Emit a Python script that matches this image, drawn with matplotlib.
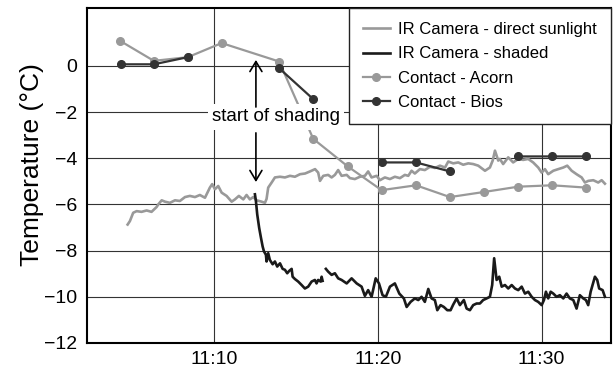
import numpy as np
import matplotlib.pyplot as plt

plt.rcParams['font.family'] = ['Liberation Sans', 'DejaVu Sans']

# time axis: minutes after 11:00
sun_t = [4.73, 4.87, 5.07, 5.28, 5.58, 5.89, 6.19, 6.50, 6.60, 6.81, 7.01, 7.31, 7.62, 7.92,
         8.23, 8.53, 8.84, 9.14, 9.45, 9.75, 9.89, 10.06, 10.26, 10.47, 10.77, 11.08, 11.28,
         11.52, 11.79, 11.99, 12.19, 12.40, 12.60, 12.91, 13.11, 13.21, 13.31, 13.52, 13.72,
         14.03, 14.33, 14.64, 14.94, 15.25, 15.56, 15.86, 16.17, 16.36, 16.47, 16.67, 16.97,
         17.18, 17.38, 17.58, 17.79, 18.10, 18.30, 18.60, 18.91, 19.21, 19.41, 19.62, 19.93,
         20.13, 20.43, 20.74, 21.04, 21.35, 21.65, 21.86, 22.06, 22.26, 22.57, 22.87, 23.18,
         23.49, 23.79, 24.10, 24.30, 24.60, 24.91, 25.21, 25.52, 25.82, 26.13, 26.54, 26.84,
         27.01, 27.15, 27.35, 27.45, 27.65, 27.96, 28.26, 28.57, 28.87, 29.18, 29.48, 29.79,
         30.00, 30.20, 30.40, 30.71, 31.01, 31.32, 31.56, 31.83, 32.13, 32.44, 32.64, 32.84,
         33.15, 33.45, 33.66, 33.86]
sun_v = [-6.87, -6.72, -6.36, -6.29, -6.32, -6.26, -6.32, -6.11, -6.00, -5.82, -5.88, -5.93,
         -5.82, -5.85, -5.68, -5.63, -5.68, -5.59, -5.71, -5.27, -5.12, -5.34, -5.20, -5.49,
         -5.63, -5.88, -5.78, -5.63, -5.78, -5.59, -5.78, -5.68, -5.82, -5.88, -5.93, -5.76,
         -5.27, -5.05, -4.83, -4.80, -4.83, -4.76, -4.80, -4.69, -4.66, -4.57, -4.47, -4.62,
         -4.98, -4.76, -4.72, -4.83, -4.72, -4.51, -4.76, -4.72, -4.86, -4.90, -4.80, -4.76,
         -4.57, -4.83, -4.76, -4.95, -4.83, -4.90, -4.80, -4.86, -4.72, -4.76, -4.54, -4.66,
         -4.47, -4.51, -4.37, -4.42, -4.32, -4.40, -4.14, -4.22, -4.18, -4.28, -4.22, -4.25,
         -4.32, -4.54, -4.40, -4.10, -3.67, -4.10, -4.03, -4.25, -3.96, -4.18, -4.03, -4.07,
         -4.03, -4.18, -4.40, -4.62, -4.47, -4.69, -4.54, -4.47, -4.40, -4.32, -4.54, -4.69,
         -4.83, -5.05, -4.98, -4.95, -5.05, -4.95, -5.10]

shade_t = [12.50, 12.56, 12.64, 12.76, 12.87, 12.97, 13.05, 13.17, 13.21, 13.31, 13.41, 13.58,
           13.72, 13.86, 14.03, 14.19, 14.33, 14.47, 14.59, 14.74, 14.80, 14.94, 15.14, 15.35,
           15.55, 15.75, 15.96, 16.16, 16.26, 16.36, 16.51, 16.57, 16.63, 16.73,
           16.83, 16.97, 17.18, 17.38, 17.58, 17.79, 18.10, 18.40, 18.71, 19.01, 19.21, 19.41,
           19.62, 19.87, 20.07, 20.29, 20.49, 20.74, 21.04, 21.31, 21.59, 21.76, 22.00, 22.26,
           22.47, 22.67, 22.87, 23.08, 23.28, 23.48, 23.63, 23.83, 24.03, 24.24, 24.44, 24.60,
           24.81, 25.01, 25.25, 25.42, 25.62, 25.82, 26.03, 26.23, 26.43, 26.64, 26.84, 26.98,
           27.10, 27.25, 27.41, 27.56, 27.76, 27.96, 28.17, 28.37, 28.57, 28.78, 28.98, 29.18,
           29.39, 29.59, 29.79, 30.00, 30.14, 30.26, 30.40, 30.55, 30.71, 30.91, 31.11, 31.32,
           31.52, 31.72, 31.93, 32.13, 32.33, 32.54, 32.70, 32.84, 32.99, 33.25, 33.39, 33.51,
           33.72, 33.86]
shade_v = [-5.56, -5.85, -6.43, -7.02, -7.45, -7.82, -8.03, -8.18, -8.47, -8.11, -8.40, -8.59,
           -8.47, -8.69, -8.55, -8.79, -8.83, -8.98, -8.88, -8.79, -9.13, -9.23, -9.34, -9.49,
           -9.64, -9.56, -9.34, -9.27, -9.42, -9.27, -9.34, -9.13, -9.31, np.nan,
           -8.79, -8.91, -9.05, -8.98, -9.20, -9.27, -9.42, -9.20, -9.42, -9.56, -9.96, -9.71,
           -10.00, -9.20, -9.42, -9.93, -10.00, -9.56, -9.42, -9.86, -10.07, -10.44, -10.22,
           -10.07, -10.14, -10.00, -10.22, -9.66, -10.07, -10.14, -10.58, -10.36, -10.44,
           -10.58, -10.58, -10.34, -10.07, -10.36, -10.14, -10.51, -10.58, -10.36, -10.29,
           -10.29, -10.14, -10.07, -10.00, -9.49, -8.33, -9.27, -9.13, -9.56, -9.49, -9.64,
           -9.49, -9.64, -9.71, -9.56, -9.86, -9.78, -10.00, -10.14, -10.22, -10.36, -10.14,
           -9.78, -10.07, -9.78, -9.86, -10.00, -9.93, -10.07, -9.86, -10.07, -10.14, -10.51,
           -9.93, -10.07, -10.14, -10.36, -9.78, -9.13, -9.27, -9.64, -9.71, -10.00]

acorn_t = [4.26, 6.33, 8.41, 10.47, 13.98, 16.06, 18.16, 20.23, 22.33, 24.40, 26.48, 28.57,
           30.64, 32.70]
acorn_v = [1.09, 0.22, 0.38, 0.99, 0.19, -3.16, -4.35, -5.38, -5.17, -5.68, -5.46, -5.23,
           -5.17, -5.27]

# gaps in the Bios record are NaN
bios_t = [4.30, 6.33, 8.41, 11.0, 13.98, 16.06, 18.0, 20.23, 22.33, 24.40, 26.0, 28.57,
          30.64, 32.70]
bios_v = [0.07, 0.07, 0.38, np.nan, -0.10, -1.44, np.nan, -4.18, -4.18, -4.57, np.nan,
          -3.92, -3.92, -3.92]

tick_pos = [10, 20, 30]
tick_lab = ["11:10", "11:20", "11:30"]
y_ticks = [-12, -10, -8, -6, -4, -2, 0]

fig = plt.figure(figsize=(6.13, 3.69), dpi=100)
ax = fig.add_axes([0.1419, 0.0705, 0.8548, 0.9079])

ax.plot(sun_t, sun_v, color="#999999", lw=1.9, label="IR Camera - direct sunlight", zorder=3)
ax.plot(shade_t, shade_v, color="#1a1a1a", lw=1.9, label="IR Camera - shaded", zorder=3)
ax.plot(acorn_t, acorn_v, color="#999999", lw=1.6, marker="o", ms=5.5,
        label="Contact - Acorn", zorder=4)
ax.plot(bios_t, bios_v, color="#333333", lw=1.6, marker="o", ms=5.5,
        label="Contact - Bios", zorder=4)

ax.set_xlim(2.25, 34.23)
ax.set_ylim(-12, 2.51)
ax.set_xticks(tick_pos)
ax.set_xticklabels(tick_lab)
ax.set_yticks(y_ticks)
ax.tick_params(length=0, labelsize=14)
ax.tick_params(axis="x", pad=6)
ax.tick_params(axis="y", pad=7)
ax.grid(True, color="#333333", lw=0.8, zorder=1)
ax.set_axisbelow(True)
for s in ax.spines.values():
    s.set_linewidth(1.5)
ax.set_ylabel("Temperature (°C)", fontsize=19)
ax.yaxis.set_label_coords(-0.082, 0.533)

# shading marker: label with arrows up and down
ax.text(13.78, -2.21, "start of shading", ha="center", va="center", fontsize=13.5,
        bbox=dict(facecolor="white", edgecolor="none", pad=3), zorder=6)
arr = dict(arrowstyle="->,head_length=0.6,head_width=0.36", color="black", lw=1.2,
           shrinkA=0, shrinkB=0, mutation_scale=12)
ax.annotate("", xy=(12.56, 0.26), xytext=(12.56, -1.78), arrowprops=arr, zorder=7)
ax.annotate("", xy=(12.56, -5.03), xytext=(12.56, -2.90), arrowprops=arr, zorder=7)

leg = ax.legend(loc="upper right", fontsize=12, fancybox=False, framealpha=1,
                edgecolor="#222222", borderaxespad=0, borderpad=0.85, labelspacing=0.56,
                handlelength=1.6, handletextpad=0.5, numpoints=1)
leg.get_frame().set_linewidth(1.0)
leg.set_zorder(10)

fig.savefig("out.png", dpi=100)
